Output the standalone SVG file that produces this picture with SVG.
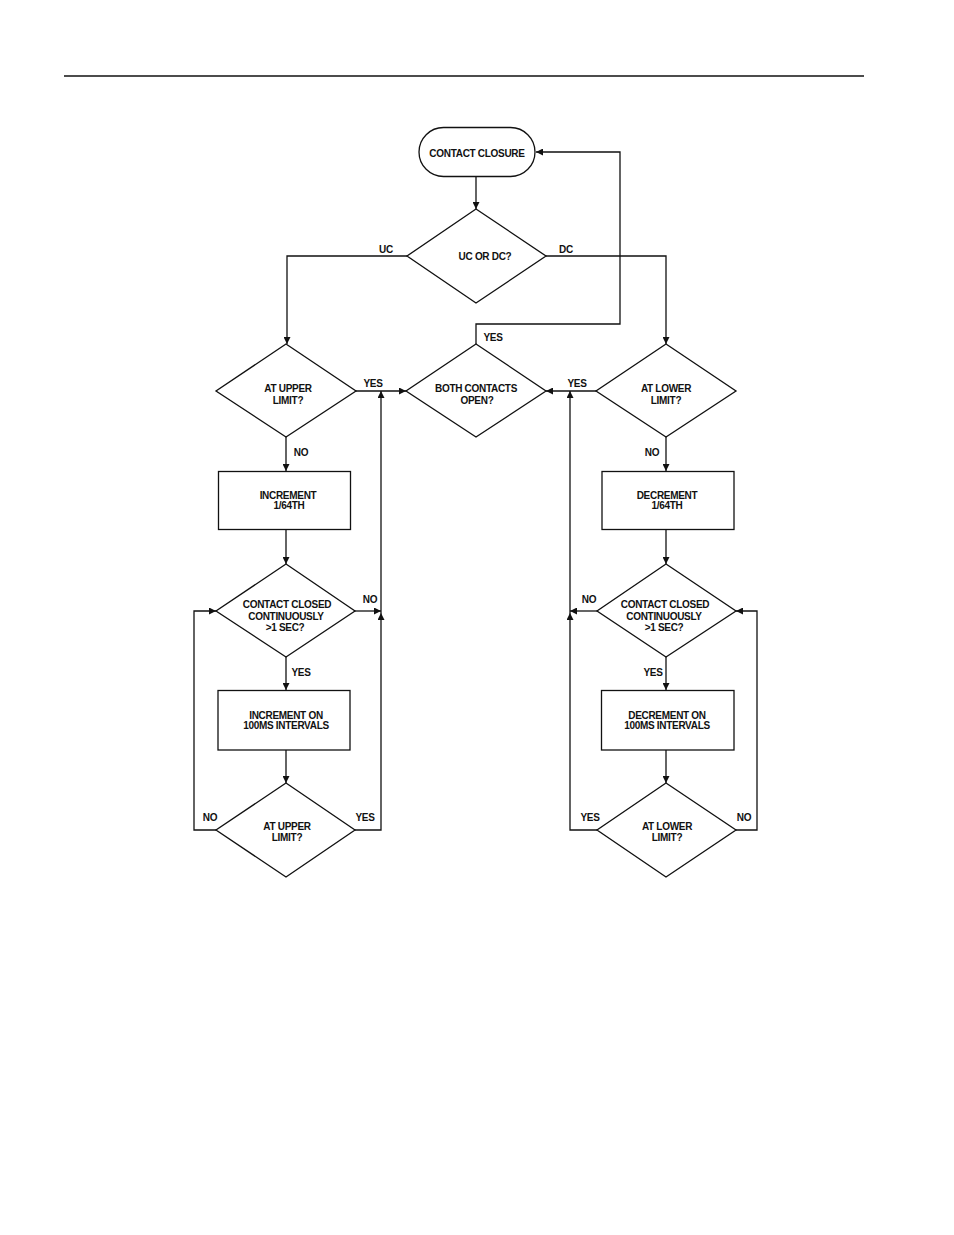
<svg xmlns="http://www.w3.org/2000/svg" width="954" height="1235" viewBox="0 0 954 1235">
<style>
.s{fill:none;stroke:#111;stroke-width:1.3}
.n{fill:#fff;stroke:#111;stroke-width:1.3}
.c{fill:none;stroke:#111;stroke-width:1.3}
text{font-family:"Liberation Sans",Arial,sans-serif;font-size:10px;font-weight:bold;fill:#111;letter-spacing:-0.3px;text-anchor:middle}
</style>
<defs>
<marker id="a" viewBox="0 0 10 10" refX="10" refY="5" markerWidth="10" markerHeight="7" markerUnits="userSpaceOnUse" orient="auto">
<path d="M0,0 L10,5 L0,10 Z" fill="#111"/>
</marker>
</defs>
<rect width="954" height="1235" fill="#fff"/>
<line x1="64" y1="76" x2="864" y2="76" stroke="#111" stroke-width="1.5"/>

<g id="connectors">
<path class="c" d="M476,177 V209" marker-end="url(#a)"/>
<path class="c" d="M407,256 H287 V344" marker-end="url(#a)"/>
<path class="c" d="M546,256 H666 V344" marker-end="url(#a)"/>
<path class="c" d="M476,345 V324 H620 V152 H536" marker-end="url(#a)"/>
<path class="c" d="M356,391 H406" marker-end="url(#a)"/>
<path class="c" d="M596,391 H546" marker-end="url(#a)"/>
<path class="c" d="M286,437 V471" marker-end="url(#a)"/>
<path class="c" d="M666,437 V471" marker-end="url(#a)"/>
<path class="c" d="M286,529 V564" marker-end="url(#a)"/>
<path class="c" d="M666,529 V564" marker-end="url(#a)"/>
<path class="c" d="M355,611 H381" marker-end="url(#a)"/>
<path class="c" d="M597,611 H570" marker-end="url(#a)"/>
<path class="c" d="M286,657 V690" marker-end="url(#a)"/>
<path class="c" d="M666,657 V690" marker-end="url(#a)"/>
<path class="c" d="M286,750 V783" marker-end="url(#a)"/>
<path class="c" d="M666,750 V783" marker-end="url(#a)"/>
<path class="c" d="M355,830 H381 V613" marker-end="url(#a)"/>
<path class="c" d="M381,613 V391" marker-end="url(#a)"/>
<path class="c" d="M597,830 H570 V613" marker-end="url(#a)"/>
<path class="c" d="M570,613 V391" marker-end="url(#a)"/>
<path class="c" d="M216,830 H194 V611 H216" marker-end="url(#a)"/>
<path class="c" d="M736,830 H757 V611 H736" marker-end="url(#a)"/>
<text x="386" y="253">UC</text>
<text x="566" y="253">DC</text>
<text x="493" y="341">YES</text>
<text x="373" y="386.5">YES</text>
<text x="577" y="386.5">YES</text>
<text x="301" y="455.5">NO</text>
<text x="652" y="455.5">NO</text>
<text x="370" y="602.5">NO</text>
<text x="589" y="602.5">NO</text>
<text x="301" y="675.5">YES</text>
<text x="653" y="675.5">YES</text>
<text x="210" y="820.5">NO</text>
<text x="365" y="820.5">YES</text>
<text x="590" y="820.5">YES</text>
<text x="744" y="820.5">NO</text>
</g>

<g id="n_start">
<rect class="n" x="419" y="127.5" width="116" height="49" rx="24.5"/>
<text x="477" y="156.5">CONTACT CLOSURE</text>
</g>
<g id="n_ucdc">
<path class="n" d="M476,209 L546,256 L476,303 L407,256 Z"/>
<text x="485" y="259.5">UC OR DC?</text>
</g>
<g id="n_upper1">
<path class="n" d="M286,344 L356,391 L286,437 L216,391 Z"/>
<text x="288" y="392">AT UPPER</text>
<text x="288" y="403.5">LIMIT?</text>
</g>
<g id="n_both">
<path class="n" d="M476,344 L546,391 L476,437 L406,391 Z"/>
<text x="476" y="392">BOTH CONTACTS</text>
<text x="477" y="403.5">OPEN?</text>
</g>
<g id="n_lower1">
<path class="n" d="M666,344 L736,391 L666,437 L596,391 Z"/>
<text x="666" y="392">AT LOWER</text>
<text x="666" y="403.5">LIMIT?</text>
</g>
<g id="n_inc1">
<rect class="n" x="218.5" y="471.5" width="132" height="58"/>
<text x="288" y="498.5">INCREMENT</text>
<text x="289" y="509">1/64TH</text>
</g>
<g id="n_dec1">
<rect class="n" x="602" y="471.5" width="132" height="58"/>
<text x="667" y="498.5">DECREMENT</text>
<text x="667" y="509">1/64TH</text>
</g>
<g id="n_cc_left">
<path class="n" d="M286,564 L355,611 L286,657 L216,611 Z"/>
<text x="287" y="608">CONTACT CLOSED</text>
<text x="286" y="619.5">CONTINUOUSLY</text>
<text x="285" y="631">&gt;1 SEC?</text>
</g>
<g id="n_cc_right">
<path class="n" d="M666,564 L736,611 L666,657 L597,611 Z"/>
<text x="665" y="608">CONTACT CLOSED</text>
<text x="664" y="619.5">CONTINUOUSLY</text>
<text x="664" y="631">&gt;1 SEC?</text>
</g>
<g id="n_inc2">
<rect class="n" x="218" y="690.5" width="132" height="59.5"/>
<text x="286" y="718.5">INCREMENT ON</text>
<text x="286" y="729">100MS INTERVALS</text>
</g>
<g id="n_dec2">
<rect class="n" x="601.5" y="690.5" width="132.5" height="59.5"/>
<text x="667" y="718.5">DECREMENT ON</text>
<text x="667" y="729">100MS INTERVALS</text>
</g>
<g id="n_upper2">
<path class="n" d="M286,783 L355,830 L286,877 L216,830 Z"/>
<text x="287" y="829.5">AT UPPER</text>
<text x="287" y="840.5">LIMIT?</text>
</g>
<g id="n_lower2">
<path class="n" d="M666,783 L736,830 L666,877 L597,830 Z"/>
<text x="667" y="829.5">AT LOWER</text>
<text x="667" y="840.5">LIMIT?</text>
</g>
</svg>
